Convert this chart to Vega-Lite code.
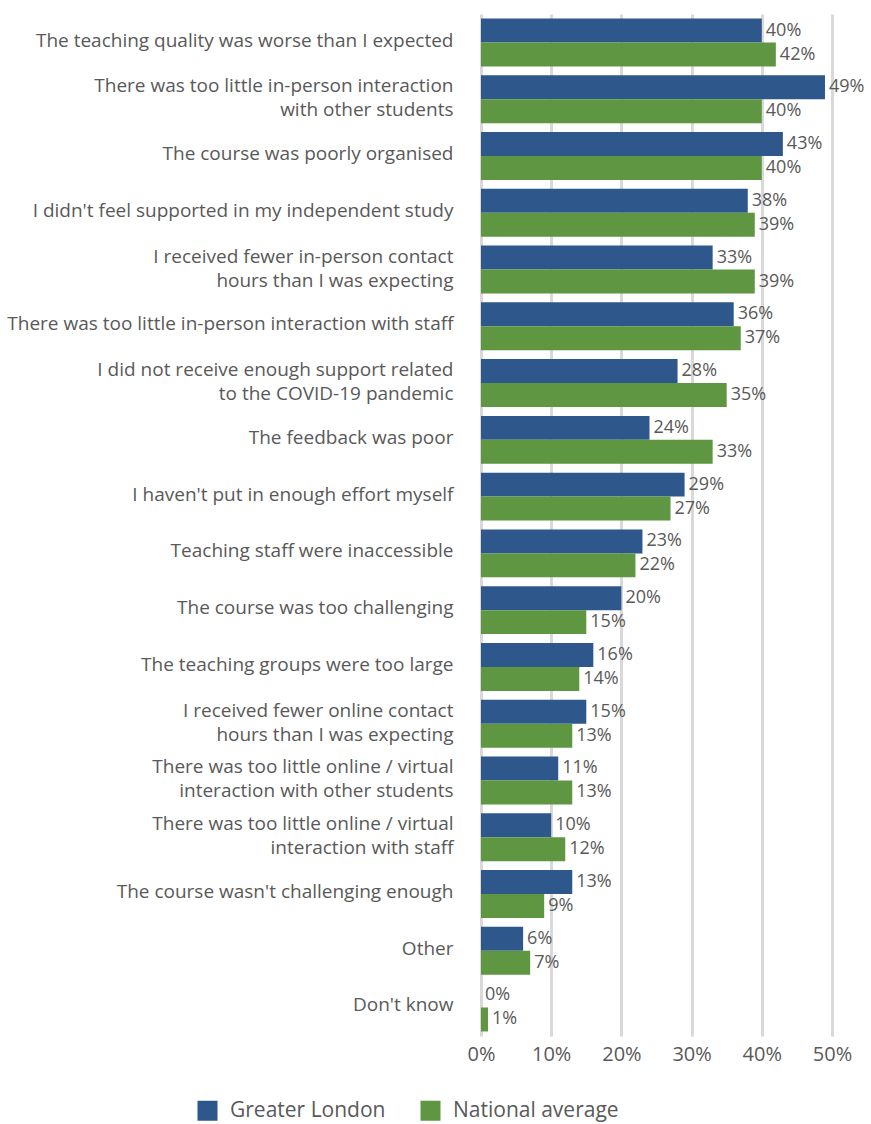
{
  "$schema": "https://vega.github.io/schema/vega-lite/v6.json",
  "width": 351,
  "height": 1022,
  "autosize": {"type": "none"},
  "padding": {"left": 481, "top": 14, "right": 39, "bottom": 88},
  "background": "white",
  "data": {
    "values": [
      {"cat": "The teaching quality was worse than I expected", "series": "Greater London", "value": 40},
      {"cat": "The teaching quality was worse than I expected", "series": "National average", "value": 42},
      {"cat": "There was too little in-person interaction|with other students", "series": "Greater London", "value": 49},
      {"cat": "There was too little in-person interaction|with other students", "series": "National average", "value": 40},
      {"cat": "The course was poorly organised", "series": "Greater London", "value": 43},
      {"cat": "The course was poorly organised", "series": "National average", "value": 40},
      {"cat": "I didn't feel supported in my independent study", "series": "Greater London", "value": 38},
      {"cat": "I didn't feel supported in my independent study", "series": "National average", "value": 39},
      {"cat": "I received fewer in-person contact|hours than I was expecting", "series": "Greater London", "value": 33},
      {"cat": "I received fewer in-person contact|hours than I was expecting", "series": "National average", "value": 39},
      {"cat": "There was too little in-person interaction with staff", "series": "Greater London", "value": 36},
      {"cat": "There was too little in-person interaction with staff", "series": "National average", "value": 37},
      {"cat": "I did not receive enough support related|to the COVID-19 pandemic", "series": "Greater London", "value": 28},
      {"cat": "I did not receive enough support related|to the COVID-19 pandemic", "series": "National average", "value": 35},
      {"cat": "The feedback was poor", "series": "Greater London", "value": 24},
      {"cat": "The feedback was poor", "series": "National average", "value": 33},
      {"cat": "I haven't put in enough effort myself", "series": "Greater London", "value": 29},
      {"cat": "I haven't put in enough effort myself", "series": "National average", "value": 27},
      {"cat": "Teaching staff were inaccessible", "series": "Greater London", "value": 23},
      {"cat": "Teaching staff were inaccessible", "series": "National average", "value": 22},
      {"cat": "The course was too challenging", "series": "Greater London", "value": 20},
      {"cat": "The course was too challenging", "series": "National average", "value": 15},
      {"cat": "The teaching groups were too large", "series": "Greater London", "value": 16},
      {"cat": "The teaching groups were too large", "series": "National average", "value": 14},
      {"cat": "I received fewer online contact|hours than I was expecting", "series": "Greater London", "value": 15},
      {"cat": "I received fewer online contact|hours than I was expecting", "series": "National average", "value": 13},
      {"cat": "There was too little online / virtual|interaction with other students", "series": "Greater London", "value": 11},
      {"cat": "There was too little online / virtual|interaction with other students", "series": "National average", "value": 13},
      {"cat": "There was too little online / virtual|interaction with staff", "series": "Greater London", "value": 10},
      {"cat": "There was too little online / virtual|interaction with staff", "series": "National average", "value": 12},
      {"cat": "The course wasn't challenging enough", "series": "Greater London", "value": 13},
      {"cat": "The course wasn't challenging enough", "series": "National average", "value": 9},
      {"cat": "Other", "series": "Greater London", "value": 6},
      {"cat": "Other", "series": "National average", "value": 7},
      {"cat": "Don't know", "series": "Greater London", "value": 0},
      {"cat": "Don't know", "series": "National average", "value": 1}
    ]
  },
  "encoding": {
    "y": {
      "field": "cat",
      "type": "nominal",
      "sort": null,
      "title": null,
      "scale": {"paddingInner": 0.155, "paddingOuter": 0.08},
      "axis": {
        "labelExpr": "split(datum.label, '|')",
        "labelFontSize": 19,
        "labelFont": "Open Sans",
        "labelColor": "#595959",
        "labelPadding": 28,
        "labelLimit": 600,
        "labelLineHeight": 24,
        "labelOffset": {"condition": {"test": "indexof(datum.value, '|') >= 0", "value": -13}, "value": -2},
        "ticks": false,
        "domain": false,
        "grid": false
      }
    },
    "yOffset": {"field": "series", "type": "nominal", "sort": ["Greater London", "National average"]},
    "x": {
      "field": "value",
      "type": "quantitative",
      "title": null,
      "scale": {"domain": [0, 50], "nice": false},
      "axis": {
        "values": [0, 10, 20, 30, 40, 50],
        "labelExpr": "datum.value + '%'",
        "labelFontSize": 20,
        "labelFont": "Open Sans",
        "labelColor": "#595959",
        "labelPadding": 8,
        "labelFlush": false,
        "labelOverlap": false,
        "ticks": false,
        "domain": false,
        "grid": true,
        "gridColor": "#D9D9D9",
        "gridWidth": 3
      }
    }
  },
  "layer": [
    {
      "mark": {"type": "bar"},
      "encoding": {
        "color": {
          "field": "series",
          "type": "nominal",
          "title": null,
          "sort": ["Greater London", "National average"],
          "scale": {"domain": ["Greater London", "National average"], "range": ["#2E578C", "#5E9641"]},
          "legend": {
            "orient": "none",
            "legendX": -284,
            "legendY": 1086,
            "direction": "horizontal",
            "symbolType": "square",
            "symbolSize": 400,
            "symbolStrokeWidth": 0,
            "labelFontSize": 21,
            "labelFont": "Open Sans",
            "labelColor": "#595959",
            "labelOffset": 12,
            "labelLimit": 400,
            "columnPadding": 34
          }
        }
      }
    },
    {
      "mark": {"type": "text", "align": "left", "baseline": "middle", "dx": 4, "fontSize": 18, "font": "Open Sans", "color": "#595959", "text": {"expr": "datum.value + '%'"}},
      "encoding": {
        "detail": {"field": "series"}
      }
    }
  ],
  "config": {
    "view": {"stroke": null}
  }
}
